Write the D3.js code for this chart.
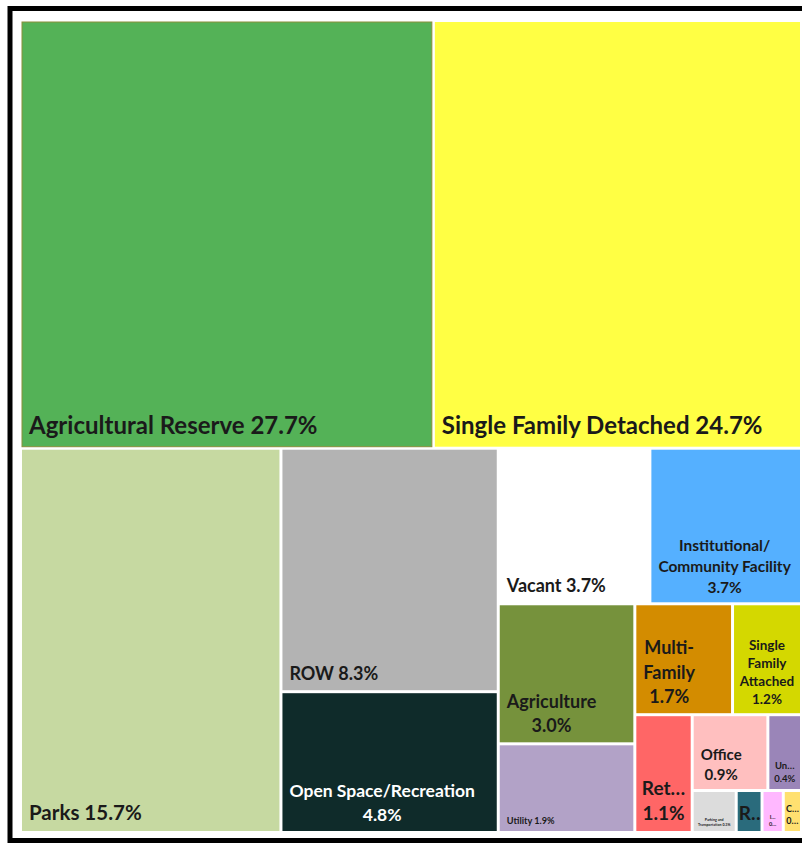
<!DOCTYPE html>
<html>
<head>
<meta charset="utf-8">
<script src="https://cdn.jsdelivr.net/npm/d3@7"></script>
<style>
  html, body { margin: 0; padding: 0; background: #ffffff; }
  svg { display: block; }
</style>
</head>
<body>
<div id="chart"></div>
<script>
// land use categories, share of total area (%)
const categories = [
  "Agricultural Reserve", "Single Family Detached", "Parks", "ROW",
  "Open Space/Recreation", "Vacant", "Institutional/Community Facility",
  "Agriculture", "Utility", "Multi-Family", "Single Family Attached",
  "Retail", "Office", "Undeveloped", "Parking and Transportation",
  "Railroad", "Industrial", "Commercial"
];
const shares = [27.7, 24.7, 15.7, 8.3, 4.8, 3.7, 3.7, 3.0, 1.9, 1.7, 1.2, 1.06, 0.9, 0.4, 0.29, 0.17, 0.14, 0.12];
const colors = [
  "#54b257", "#ffff44", "#c6d9a1", "#b3b3b3", "#0f2b2a", "#ffffff",
  "#55b0ff", "#76923c", "#b2a2c7", "#d38c00", "#d4d800", "#ff6666",
  "#ffbfbf", "#9a85b8", "#dcdcdc", "#2a6b7c", "#ffb8ff", "#ffe070"
];
// label text as it appears in each tile
const labelLines = [
  ["Agricultural Reserve 27.7%"],
  ["Single Family Detached 24.7%"],
  ["Parks 15.7%"],
  ["ROW 8.3%"],
  ["Open Space/Recreation", "4.8%"],
  ["Vacant 3.7%"],
  ["Institutional/", "Community Facility", "3.7%"],
  ["Agriculture", "3.0%"],
  ["Utility 1.9%"],
  ["Multi-", "Family", "1.7%"],
  ["Single", "Family", "Attached", "1.2%"],
  ["Ret\u2026", "1.1%"],
  ["Office", "0.9%"],
  ["Un\u2026", "0.4%"],
  ["Parking and", "Transportation 0.3%"],
  ["R\u2026"],
  ["I\u2026", "0\u2026"],
  ["C\u2026", "0\u2026"]
];

// label font sizes (px) per tile
const labelSizes = [24, 24, 20.5, 18, 17.5, 18, 15.5, 18, 9.2, 18, 13.5, 19, 15, 9.5, 3.6, 19, 5.5, 9];

// how the tiles are cut, strip by strip (count of tiles, direction)
const stripSizes = [2, 1, 2, 2, 2, 2, 1, 2, 4];
const stripDirs = ["row", "col", "col", "row", "col", "row", "col", "row", "row"];

const width = 802, height = 844;
const box = { x0: 22, y0: 22, x1: 800, y1: 831 };

const svg = d3.select("#chart").append("svg")
    .attr("width", width)
    .attr("height", height);

// outer black frame
svg.append("rect")
    .attr("x", 10)
    .attr("y", 8.5)
    .attr("width", 806)
    .attr("height", 832)
    .attr("fill", "#ffffff")
    .attr("stroke", "#000000")
    .attr("stroke-width", 5);

const data = categories.map((c, i) => ({
    name: c, value: shares[i], color: colors[i],
    lines: labelLines[i], size: labelSizes[i], idx: i
}));

// strip tiling in the same order the spreadsheet treemap uses
function stripTile(parent, x0, y0, x1, y1) {
    const kids = parent.children;
    let rest = parent.value, i = 0;
    stripSizes.forEach((n, s) => {
        const row = { children: kids.slice(i, i + n) };
        row.value = d3.sum(row.children, d => d.value);
        i += n;
        const last = i >= kids.length;
        if (stripDirs[s] === "row") {
            const y = last ? y1 : y0 + (y1 - y0) * row.value / rest;
            d3.treemapDice(row, x0, y0, x1, y);
            y0 = y;
        } else {
            const x = last ? x1 : x0 + (x1 - x0) * row.value / rest;
            d3.treemapSlice(row, x0, y0, x, y1);
            x0 = x;
        }
        rest -= row.value;
    });
}

const root = d3.hierarchy({ children: data })
    .sum(d => d.value || 0);

d3.treemap()
    .tile(stripTile)
    .size([box.x1 - box.x0, box.y1 - box.y0])
    .paddingInner(3)
    (root);

const g = svg.append("g")
    .attr("transform", `translate(${box.x0},${box.y0})`);

const defs = svg.append("defs");

const nodes = g.selectAll("g.node")
    .data(root.leaves())
    .enter()
    .append("g")
    .attr("class", "node")
    .attr("transform", d => `translate(${d.x0},${d.y0})`);

nodes.each(function (d) {
    defs.append("clipPath")
        .attr("id", "clip" + d.data.idx)
        .append("rect")
        .attr("width", d.x1 - d.x0)
        .attr("height", d.y1 - d.y0);
});

nodes.append("rect")
    .attr("width", d => d.x1 - d.x0)
    .attr("height", d => d.y1 - d.y0)
    .attr("fill", d => d.data.color)
    .attr("stroke", d => d.data.idx === 0 ? "#8a8f3a" : "none")
    .attr("stroke-width", 1);

// labels: block sits at the lower left, lines centred on the widest one
nodes.each(function (d) {
    const node = d3.select(this);
    const lab = node.append("g").attr("clip-path", `url(#clip${d.data.idx})`);
    const fs = d.data.size;
    const lh = fs * 1.35;
    const n = d.data.lines.length;
    const w = d.x1 - d.x0;
    const h = d.y1 - d.y0;
    const pad = fs < 6 ? 5 : fs * 0.35 + 4;
    const texts = d.data.lines.map((t, k) => lab.append("text")
        .attr("y", h - pad - (n - 1 - k) * lh)
        .attr("font-family", "Lato, 'Noto Sans', sans-serif")
        .attr("font-weight", 700)
        .attr("font-size", fs + "px")
        .attr("fill", d.data.idx === 4 ? "#ffffff" : "#1a1a1a")
        .text(t));
    const widths = texts.map(t => t.node().getComputedTextLength());
    const maxW = d3.max(widths);
    const left = maxW > w - 14 ? Math.max(1, (w - maxW) / 2) : 7;
    texts.forEach((t, k) => t.attr("x", left + (maxW - widths[k]) / 2));
});
</script>
</body>
</html>
